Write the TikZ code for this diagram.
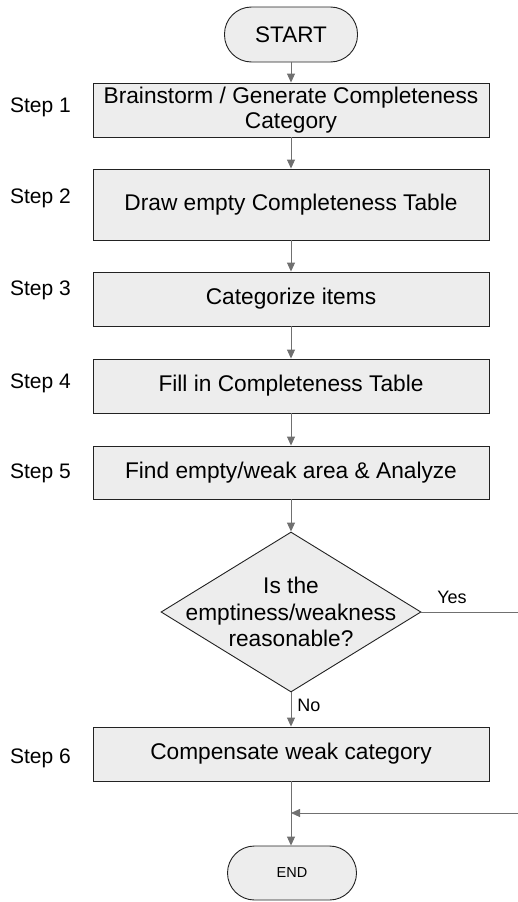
\documentclass[tikz,border=0pt]{standalone}
\usepackage{fontspec}
\setmainfont{Liberation Sans}
\usetikzlibrary{arrows.meta,shapes.geometric}
\definecolor{boxfill}{HTML}{EDEDED}
\definecolor{arrowgray}{HTML}{707070}
\definecolor{edgecol}{HTML}{222222}
\begin{document}
\begin{tikzpicture}[x=1pt,y=-1pt,
 stepbox/.style={draw=edgecol,fill=boxfill,line width=0.9pt,minimum width=396pt,minimum height=54pt,inner sep=0pt,align=center,font=\fontsize{22.7}{25.5}\selectfont},
 terminal/.style={draw=edgecol,fill=boxfill,line width=0.9pt,rounded corners=27pt,minimum height=55pt,inner sep=0pt},
 decision/.style={draw=edgecol,fill=boxfill,line width=0.9pt,diamond,minimum width=260pt,minimum height=160pt,inner sep=0pt},
 steplabel/.style={font=\fontsize{21}{25}\selectfont,inner sep=0pt},
 flow/.style={draw=arrowgray,line width=0.9pt,-{Triangle[width=8pt,length=9pt]}},
 plainline/.style={draw=arrowgray,line width=0.9pt},
 branch/.style={font=\fontsize{18}{20}\selectfont,inner sep=0pt}
]
\useasboundingbox (0,0) rectangle (518,902);
\node[terminal,minimum width=133pt,font=\fontsize{22.5}{25}\selectfont] (start) at (291,34.5) {START};
\node[stepbox] (b1) at (291,110) {Brainstorm / Generate Completeness\\Category};
\node[stepbox,minimum height=71pt] (b2) at (291,204.5) {Draw empty Completeness Table};
\node[stepbox] (b3) at (291,299) {Categorize items};
\node[stepbox] (b4) at (291,386) {Fill in Completeness Table};
\node[stepbox,minimum height=53pt] (b5) at (291,472.5) {Find empty/weak area \& Analyze};
\node[decision] (dec) at (291,612) {};
\node[align=center,inner sep=0pt,font=\fontsize{22.7}{26.5}\selectfont] (dectext) at (dec.center) {Is the\\emptiness/weakness\\reasonable?};
\node[stepbox] (b6) at (291,754) {Compensate weak category};
\node[terminal,minimum width=129pt,minimum height=54pt,font=\fontsize{14.5}{16}\selectfont] (end) at (292,873) {END};

\node[steplabel] (s1) at (40.5,107) {Step 1};
\node[steplabel] (s2) at (40.5,198) {Step 2};
\node[steplabel] (s3) at (40.5,290) {Step 3};
\node[steplabel] (s4) at (40.5,383) {Step 4};
\node[steplabel] (s5) at (40.5,473) {Step 5};
\node[steplabel] (s6) at (40.5,758) {Step 6};

\draw[flow] (start) -- (b1);
\draw[flow] (b1) -- (b2);
\draw[flow] (b2) -- (b3);
\draw[flow] (b3) -- (b4);
\draw[flow] (b4) -- (b5);
\draw[flow] (b5) -- (dec);
\draw[flow] (dec) -- (b6);
\draw[flow] (b6.south) -- (b6.south |- end.north);
\coordinate (yesend) at (518,612);
\draw[plainline] (dec.east) -- (yesend);
\coordinate (ret) at (518,813);
\draw[flow] (ret) -- (ret -| b6.south);
\node[branch] (yes) at (452,597) {Yes};
\node[branch] (no) at (309,705) {No};
\end{tikzpicture}
\end{document}
